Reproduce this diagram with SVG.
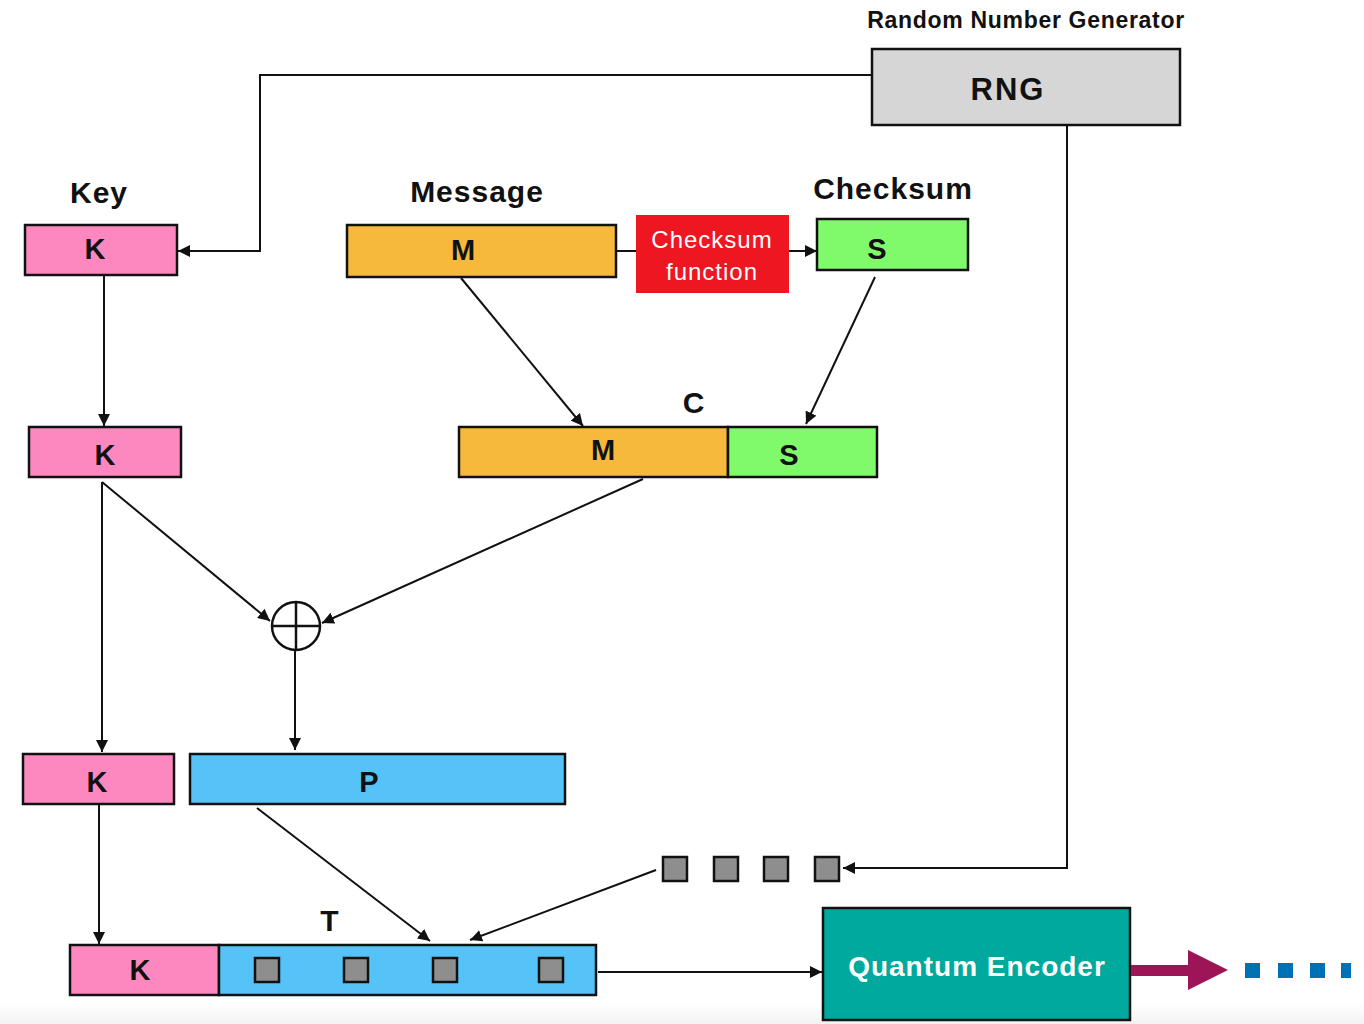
<svg xmlns="http://www.w3.org/2000/svg" width="1364" height="1024" viewBox="0 0 1364 1024">
<defs>
<style>
text{font-family:"Liberation Sans",Arial,sans-serif;font-weight:bold;text-anchor:middle;dominant-baseline:central}
.box{stroke:#111;stroke-width:2.5}
.k{fill:#fd88c0}.m{fill:#f7b93c}.s{fill:#80f96a}.p{fill:#55c3f8}
.sq{fill:#8e8e8e;stroke:#111;stroke-width:2.5}
.lbl{font-size:30px;fill:#111;letter-spacing:1px}
.in{font-size:29px;fill:#111}
.ln{fill:none;stroke:#111;stroke-width:2}
</style>
<marker id="ah" viewBox="0 0 10 10" refX="10" refY="5" markerWidth="12" markerHeight="12" markerUnits="userSpaceOnUse" orient="auto"><path d="M0,0 L10,5 L0,10 z" fill="#111"/></marker>
<linearGradient id="bg" x1="0" y1="0" x2="0" y2="1"><stop offset="0" stop-color="#fff"/><stop offset="1" stop-color="#f2f2f2"/></linearGradient>
</defs>
<rect width="1364" height="1024" fill="#fff"/>
<rect y="1004" width="1364" height="20" fill="url(#bg)"/>
<g id="connectors">
<polyline class="ln" points="872,75 260,75 260,251 178,251" marker-end="url(#ah)"/>
<polyline class="ln" points="1067,125 1067,868 843,868" marker-end="url(#ah)"/>
<line class="ln" x1="616" y1="251" x2="636" y2="251"/>
<line class="ln" x1="789" y1="251" x2="817" y2="251" marker-end="url(#ah)"/>
<line class="ln" x1="104" y1="275" x2="104" y2="426" marker-end="url(#ah)"/>
<line class="ln" x1="461" y1="278" x2="583" y2="426" marker-end="url(#ah)"/>
<line class="ln" x1="875" y1="277" x2="806" y2="424" marker-end="url(#ah)"/>
<line class="ln" x1="102" y1="482" x2="270" y2="621" marker-end="url(#ah)"/>
<line class="ln" x1="643" y1="479" x2="322" y2="623" marker-end="url(#ah)"/>
<line class="ln" x1="102" y1="482" x2="102" y2="752" marker-end="url(#ah)"/>
<line class="ln" x1="295" y1="650" x2="295" y2="750" marker-end="url(#ah)"/>
<line class="ln" x1="99" y1="804" x2="99" y2="944" marker-end="url(#ah)"/>
<line class="ln" x1="257" y1="808" x2="430" y2="941" marker-end="url(#ah)"/>
<line class="ln" x1="656" y1="870" x2="470" y2="940" marker-end="url(#ah)"/>
<line class="ln" x1="598" y1="972" x2="822" y2="972" marker-end="url(#ah)"/>
</g>
<g id="rng">
<text x="1026" y="20" style="font-size:23px;fill:#111;letter-spacing:0.7px">Random Number Generator</text>
<rect class="box" x="872" y="49" width="308" height="76" fill="#d6d6d6"/>
<text class="in" x="1008" y="89" style="font-size:31px;letter-spacing:2px">RNG</text>
</g>
<g id="key">
<text class="lbl" x="99" y="192">Key</text>
<rect class="box k" x="25" y="225" width="152" height="50"/>
<text class="in" x="95" y="249">K</text>
</g>
<g id="message">
<text class="lbl" x="477" y="191">Message</text>
<rect class="box m" x="347" y="225" width="269" height="52"/>
<text class="in" x="463" y="250">M</text>
</g>
<g id="checksum-function">
<rect x="636" y="215" width="153" height="78" fill="#ee1620"/>
<text x="712" y="239" style="font-size:24px;font-weight:normal;fill:#fff;letter-spacing:1px">Checksum</text>
<text x="712" y="271" style="font-size:24px;font-weight:normal;fill:#fff;letter-spacing:1px">function</text>
</g>
<g id="checksum">
<text class="lbl" x="893" y="188">Checksum</text>
<rect class="box s" x="817" y="219" width="151" height="51"/>
<text class="in" x="877" y="249">S</text>
</g>
<g id="key2">
<rect class="box k" x="29" y="427" width="152" height="50"/>
<text class="in" x="105" y="455">K</text>
</g>
<g id="c">
<text class="lbl" x="694" y="402">C</text>
<rect class="box m" x="459" y="427" width="269" height="50"/>
<rect class="box s" x="728" y="427" width="149" height="50"/>
<text class="in" x="603" y="450">M</text>
<text class="in" x="789" y="455">S</text>
</g>
<g id="xor">
<circle cx="296" cy="626" r="24" fill="#fff" stroke="#111" stroke-width="2.5"/>
<line x1="272" y1="626" x2="320" y2="626" stroke="#111" stroke-width="2.5"/>
<line x1="296" y1="602" x2="296" y2="650" stroke="#111" stroke-width="2.5"/>
</g>
<g id="key3">
<rect class="box k" x="23" y="754" width="151" height="50"/>
<text class="in" x="97" y="782">K</text>
</g>
<g id="p">
<rect class="box p" x="190" y="754" width="375" height="50"/>
<text class="in" x="369" y="782">P</text>
</g>
<g id="random-bits">
<rect class="sq" x="663" y="857" width="24" height="24"/>
<rect class="sq" x="714" y="857" width="24" height="24"/>
<rect class="sq" x="764" y="857" width="24" height="24"/>
<rect class="sq" x="815" y="857" width="24" height="24"/>
</g>
<g id="t">
<text class="lbl" x="330" y="920">T</text>
<rect class="box k" x="70" y="945" width="149" height="50"/>
<rect class="box p" x="219" y="945" width="377" height="50"/>
<text class="in" x="140" y="970">K</text>
<rect class="sq" x="255" y="958" width="24" height="24"/>
<rect class="sq" x="344" y="958" width="24" height="24"/>
<rect class="sq" x="433" y="958" width="24" height="24"/>
<rect class="sq" x="539" y="958" width="24" height="24"/>
</g>
<g id="quantum-encoder">
<rect class="box" x="823" y="908" width="307" height="112" fill="#00a99d"/>
<text x="977" y="966" style="font-size:28px;fill:#fff;letter-spacing:1px">Quantum Encoder</text>
</g>
<g id="output">
<path d="M1131,965 L1188,965 L1188,950 L1228,970 L1188,990 L1188,976 L1131,976 z" fill="#9d1457"/>
<rect x="1245" y="963" width="15" height="15" fill="#0071b5"/>
<rect x="1278" y="963" width="15" height="15" fill="#0071b5"/>
<rect x="1310" y="963" width="15" height="15" fill="#0071b5"/>
<rect x="1341" y="963" width="10" height="15" fill="#0071b5"/>
</g>
</svg>
